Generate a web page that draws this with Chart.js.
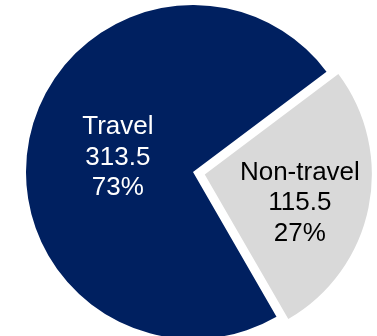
<!DOCTYPE html>
<html>
<head>
<meta charset="utf-8">
<script src="https://cdn.jsdelivr.net/npm/chart.js@4"></script>
<style>
    html, body { margin: 0; padding: 0; background: #fff; overflow: hidden; }
    #wrap { width: 377px; height: 336px; }
</style>
</head>
<body>
<div id="wrap"><canvas id="myChart"></canvas></div>
<script>
const categories = ['Travel', 'Non-travel'];
const values = [313.5, 115.5];
const percents = ['73%', '27%'];
const colors = ['#002060', '#D9D9D9'];
const textColors = ['#ffffff', '#000000'];

// where each label sits, relative to the pie centre (fraction of radius)
const labelPos = [
    { dx: -0.45, dy: -0.087 },
    { dx: 0.64, dy: 0.186 }
];

const pieLabels = {
    id: 'pieLabels',
    afterDatasetsDraw(chart) {
        const ctx = chart.ctx;
        const meta = chart.getDatasetMeta(0);
        ctx.save();
        ctx.font = '26px "Liberation Sans", Arial, sans-serif';
        ctx.textAlign = 'center';
        ctx.textBaseline = 'middle';
        meta.data.forEach(function (arc, i) {
            const r = arc.outerRadius;
            const x = arc.x + labelPos[i].dx * r;
            const y = arc.y + labelPos[i].dy * r;
            ctx.fillStyle = textColors[i];
            const lines = [categories[i], values[i].toFixed(1), percents[i]];
            lines.forEach(function (t, k) {
                ctx.fillText(t, x, y + (k - 1) * 30.5);
            });
        });
        ctx.restore();
    }
};

var ctx = document.getElementById('myChart').getContext('2d');
var chart = new Chart(ctx, {
    type: 'pie',
    data: {
        labels: categories,
        datasets: [{
            data: values,
            backgroundColor: colors,
            borderWidth: 0,
            // chart.js moves the arc by offset / 4
            offset: [0, 48]
        }]
    },
    options: {
        responsive: true,
        maintainAspectRatio: false,
        animation: false,
        rotation: 150,
        radius: 167,
        layout: { padding: { left: 9, top: 8 } },
        plugins: {
            legend: { display: false },
            tooltip: { enabled: false }
        }
    },
    plugins: [pieLabels]
});
</script>
</body>
</html>
